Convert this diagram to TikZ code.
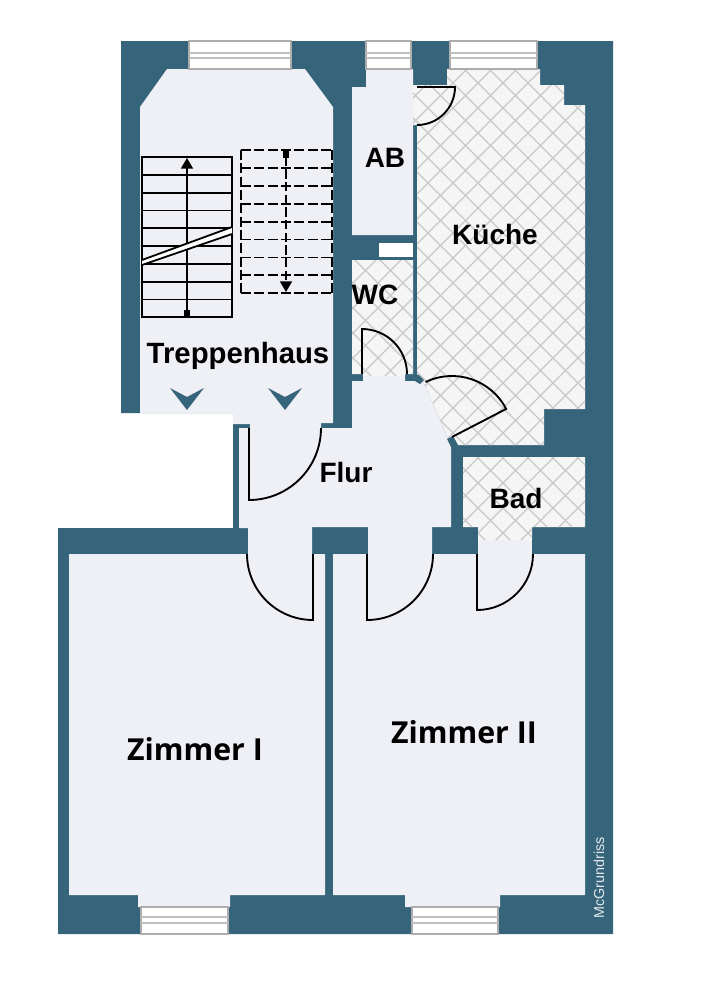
\documentclass[tikz,border=0pt]{standalone}
\usepackage{fontspec}
\setmainfont{Liberation Sans}
\newfontfamily\zimmerfont{Open Sans}
\usetikzlibrary{arrows.meta}
\definecolor{wallcol}{HTML}{36647A}
\definecolor{floorcol}{HTML}{EEF0F5}
\definecolor{tilecol}{HTML}{F5F5F5}
\definecolor{gridcol}{HTML}{C8C8C8}
\newcommand{\tilepath}{(413,85) -- (447,85) -- (447,69) -- (540,69) -- (540,85) -- (564,85) -- (564,105) -- (585,105) -- (585,409) -- (544,409) -- (544,445) -- (453,445) -- (448,438) -- (423,381) -- (417,381) -- (417,125) -- (413,125) -- cycle
  (352,260) -- (413,260) -- (413,374) -- (405,374) -- (405,376) -- (363,376) -- (363,374) -- (352,374) -- cycle
  (463,457) -- (585,457) -- (585,527) -- (532,527) -- (532,540) -- (478,540) -- (478,527) -- (463,527) -- cycle}
\tikzset{
  wall/.style={fill=wallcol},
  floor/.style={fill=floorcol},
  gridline/.style={draw=gridcol,line width=.9pt},
  windowbox/.style={fill=white,draw=gray!65,line width=.9pt},
  windowline/.style={draw=gray!50,line width=.9pt},
  doorline/.style={draw=black,line width=1.4pt},
  tread/.style={draw=black,line width=1.35pt},
  room/.style={font=\bfseries\fontsize{21}{24}\selectfont,inner sep=0pt},
  bigroom/.style={font=\zimmerfont\bfseries\fontsize{22.7}{26}\selectfont,inner sep=0pt},
}
\begin{document}
\begin{tikzpicture}[x=.75pt,y=-.75pt]
\useasboundingbox (0,0) rectangle (701,1000);
\fill[wall] (121,41) -- (613,41) -- (613,934) -- (58,934) -- (58,528) -- (233,528) -- (233,413) -- (121,413) -- cycle;
% floors
\fill[floor] (167,69) -- (305,69) -- (333,107) -- (333,423) -- (321,423) -- (321,428) -- (352,428) -- (352,381) -- (363,381) -- (363,376) -- (405,376) -- (405,381) -- (423,381) -- (448,438) -- (451,445) -- (451,527) -- (432,527) -- (432,554) -- (368,554) -- (368,527) -- (312,527) -- (312,554) -- (248,554) -- (248,528) -- (239,528) -- (239,428) -- (250,428) -- (250,424) -- (233,424) -- (233,413) -- (140,413) -- (140,107) -- cycle;
\fill[floor] (366,69) -- (413,69) -- (413,235) -- (352,235) -- (352,87) -- (366,87) -- cycle;
\fill[floor] (69,554) -- (325,554) -- (325,895) -- (230,895) -- (230,907) -- (138,907) -- (138,895) -- (69,895) -- cycle;
\fill[floor] (333,554) -- (585,554) -- (585,895) -- (500,895) -- (500,907) -- (405,907) -- (405,895) -- (333,895) -- cycle;
\fill[floor] (478,540) rectangle (532,554);
\fill[white] (379,243) rectangle (413,257);
\begin{scope}
\fill[tilecol] \tilepath;
\clip \tilepath;
\foreach \k[evaluate=\k as \c using int(411+25*\k),evaluate=\k as \d using int(-255+25*\k)] in {0,...,32}{
  \draw[gridline] (\c-40,40) -- (\c-600,600);
  \draw[gridline] (\d+40,40) -- (\d+600,600);
}
\end{scope}
% hinge ears
\fill[wall] (447,439) -- (453,436) -- (458,445) -- (451,447) -- cycle;
\fill[wall] (415,374) -- (419,375) -- (424,380) -- (420,384) -- (415,381) -- cycle;
% windows
\foreach \xa/\xb/\ya/\yb/\la/\lb in {189/291/41/69/53/58,366/411/41/69/53/58,450/537/41/69/53/58,141/228/907/934/917/923,412/498/907/934/917/923}{
  \draw[windowbox] (\xa,\ya) rectangle (\xb,\yb);
  \draw[windowline] (\xa,\la) -- (\xb,\la) (\xa,\lb) -- (\xb,\lb);
}
% doors
\foreach \hx/\hy/\a/\b/\r in {249/428/270/360/54,417/87/0/-90/28.5,362/374/90/0/33.75,452/437/27.4/115.7/45.75,313/554/270/180/49.5,367/554/270/360/49.5,477/554/270/360/42}
  \draw[doorline] (\hx,\hy) -- ++(\a:\r pt) arc[start angle=\a,end angle=\b,radius=\r pt];
% stairs
\draw[tread] (142,157) rectangle (232,317);
\foreach \i in {1,...,8}
  \draw[tread] (142,157+17.8*\i) -- (232,157+17.8*\i);
\draw[tread,{Square[length=5pt,width=5pt]}-{Triangle[length=8pt,width=9pt]}] (187,317) -- (187,158);
\fill[white] (142,260) -- (232,227) -- (232,234) -- (142,265) -- cycle;
\draw[tread] (142,260) -- (232,227) (142,265) -- (232,234);
\foreach \i in {0,...,8}
  \draw[tread,dash pattern=on 7.5pt off 2.5pt] (241,150+17.9*\i) -- (332,150+17.9*\i);
\draw[tread,dash pattern=on 7.5pt off 2.5pt] (241,150) -- (241,293) (332,150) -- (332,293);
\draw[tread,dash pattern=on 7pt off 2.5pt,{Square[length=5pt,width=5pt]}-{Triangle[length=8pt,width=9pt]}] (286,151) -- (286,292);
% landing marks
\foreach \x in {187,285}
  \fill[wall] (\x-17,388) -- (\x,397) -- (\x+17,388) -- (\x,410) -- cycle;
% labels
\node[room,font=\bfseries\fontsize{22}{24}\selectfont] (treppenhaus) at (238,356) {Treppenhaus};
\node[room] (ab) at (385,158) {AB};
\node[room] (kueche) at (495,234) {Küche};
\node[room] (wc) at (375,295) {WC};
\node[room] (flur) at (346,472) {Flur};
\node[room] (bad) at (516,498) {Bad};
\node[bigroom] (zimmera) at (195,749) {Zimmer I};
\node[bigroom] (zimmerb) at (464,732) {Zimmer II};
\node[rotate=90,text=white!85!wallcol,font=\fontsize{10.8}{12}\selectfont,inner sep=0pt] (mcgrundriss) at (599,878) {McGrundriss};
\end{tikzpicture}
\end{document}
